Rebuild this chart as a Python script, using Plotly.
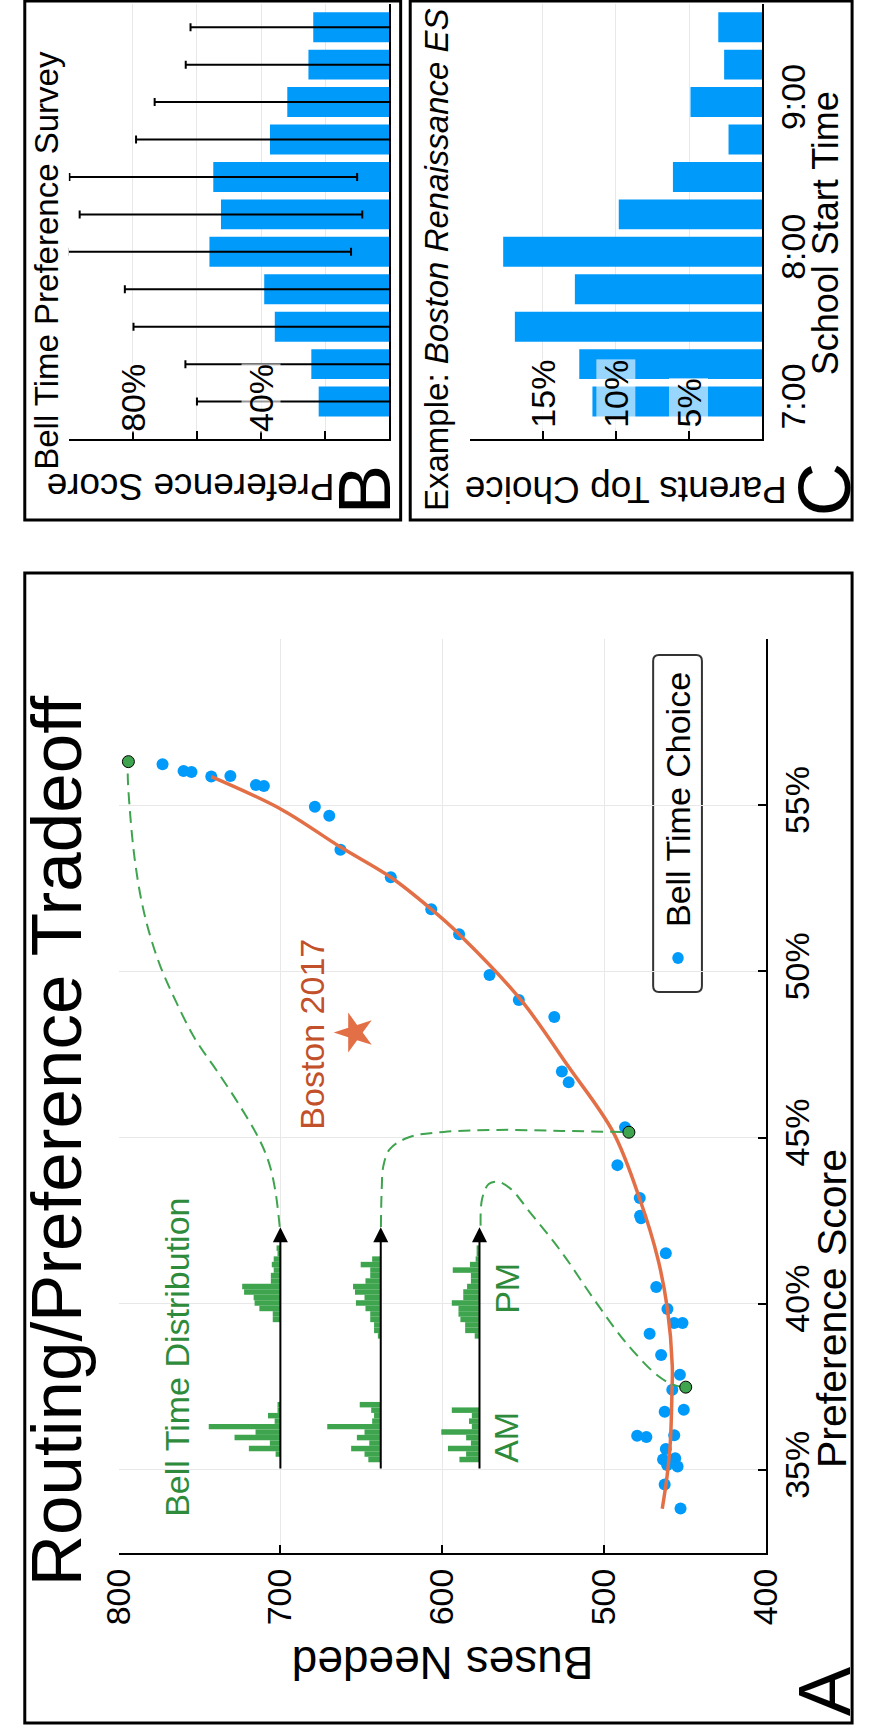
import plotly.graph_objects as go

W, H = 872, 1725
FONT = "Liberation Sans, Arial, Helvetica, sans-serif"
BLUE, ORANGE, GREEN = "#009AFA", "#E36F47", "#3EA44E"
GREEN_TXT, ORANGE_TXT = "#2e8b3c", "#c1502b"

# ---------------- Panel A data ----------------
bus_choice = [772.8, 759.8, 754.9, 742.7, 730.9, 715.1, 710.2, 678.7, 669.8, 662.9, 631.8,
              606.8, 589.6, 570.8, 552.7, 530.8, 526.1, 521.9, 487.1, 491.8, 478.0, 477.8,
              477.2, 461.9, 467.8, 460.9, 456.8, 451.6, 471.9, 464.8, 453.2, 457.9, 462.6,
              450.8, 479.6, 473.9, 456.7, 461.9, 463.6, 456.1, 461.1, 454.6, 462.6, 452.8]
pref_choice = [56.23, 56.03, 56.00, 55.86, 55.88, 55.61, 55.58, 54.95, 54.68, 53.66, 52.83,
               51.87, 51.12, 49.89, 49.14, 48.63, 46.99, 46.66, 45.31, 44.17, 43.18, 42.65,
               42.57, 41.52, 40.50, 39.84, 39.42, 39.42, 39.10, 38.46, 37.86, 37.41, 36.75,
               36.81, 36.03, 35.99, 36.04, 35.63, 35.31, 35.35, 35.15, 35.10, 34.56, 33.84]

fit_bus = [742.7, 699.6, 662.9, 631.8, 606.8, 589.6, 551.9, 522.3, 494.5, 478.0, 466.8,
           460.9, 457.9, 458.1, 459.1, 461.1, 464.1]
fit_pref = [55.86, 54.88, 53.74, 52.83, 51.87, 51.12, 49.17, 47.15, 45.17, 43.15, 41.35,
            39.84, 38.13, 37.35, 35.84, 34.82, 33.83]

path1_bus = [700.4, 703.3, 707.2, 713.1, 725.0, 738.7, 752.6, 764.4, 774.2, 781.1, 786.0, 790.0, 792.9, 794.3, 793.9]
path1_pref = [42.31, 43.45, 44.26, 44.95, 45.95, 46.97, 47.96, 49.08, 50.16, 51.18, 52.17, 53.38, 54.79, 55.93, 56.31]
path2_bus = [637.9, 637.4, 636.4, 632.4, 620.6, 599.0, 565.5, 526.1, 484.7]
path2_pref = [42.31, 43.45, 44.14, 44.65, 45.01, 45.17, 45.23, 45.20, 45.16]
path3_bus = [576.3, 575.4, 571.3, 565.5, 557.6, 545.8, 526.1, 506.4, 486.7, 467.0, 457.2, 449.6]
path3_pref = [42.35, 43.15, 43.60, 43.67, 43.45, 42.75, 41.54, 40.14, 38.84, 37.84, 37.56, 37.49]

sel_bus = [793.9, 484.7, 449.6]
sel_pref = [56.31, 45.16, 37.49]

boston_bus = [654.1]
boston_pref = [48.16]

# bell time distribution insets
hist_base_bus = [700, 638, 577]
arrow_from_pref, arrow_to_pref = 35.0, 42.3
am_start, pm_start, bin_w = 35.23, 38.95, 0.165
hist_am = [[0, 5, 33, 11, 48, 26, 75, 6, 13, 3, 3],
           [13, 17, 31, 12, 25, 17, 56, 9, 7, 10, 22],
           [21, 14, 33, 9, 14, 40, 8, 11, 8, 29, 0]]
hist_pm = [[0, 0, 0, 8, 8, 22, 27, 28, 38, 40, 10, 10, 7, 9, 7, 3, 4],
           [3, 7, 7, 11, 11, 16, 26, 17, 27, 29, 16, 11, 11, 21, 9, 0, 0],
           [5, 15, 15, 20, 22, 22, 29, 17, 17, 13, 9, 9, 28, 10, 4, 3, 3]]
HIST_UNIT = 0.59  # buses per count unit

bus_ticks = [400, 500, 600, 700, 800]
bus_ticktext = ["400", "500", "600", "700", "800"]
pref_ticks = [35, 40, 45, 50, 55]
pref_ticktext = ["35%", "40%", "45%", "50%", "55%"]

# ---------------- Panel B / C data ----------------
start_times = [7.0, 7.25, 7.5, 7.75, 8.0, 8.25, 8.5, 8.75, 9.0, 9.25, 9.5]
survey_mean = [22.0, 24.3, 35.7, 39.0, 56.1, 52.5, 54.9, 37.2, 31.8, 25.2, 23.7]
survey_err = [38.0, 39.3, 44.1, 43.5, 44.2, 44.1, 44.9, 41.8, 41.4, 38.3, 38.3]
survey_ticks = [0, 20, 40, 60, 80, 100]
survey_labels = {80: "80%", 40: "40%"}

top_choice = [11.6, 12.5, 16.9, 12.8, 17.7, 9.8, 6.1, 2.3, 4.9, 2.6, 3.0]
choice_ticks = [0, 5, 10, 15, 20]
choice_labels = {15: "15%", 10: "10%", 5: "5%"}
time_ticks = [7, 8, 9]
time_ticktext = ["7:00", "8:00", "9:00"]


def fx(p):
    return p / W


def fy(p):
    return 1 - p / H


fig = go.Figure()

# Panel A traces
fig.add_trace(go.Scatter(x=bus_choice, y=pref_choice, mode="markers", xaxis="x", yaxis="y",
                         marker=dict(color=BLUE, size=12, line=dict(width=0))))
fig.add_trace(go.Scatter(x=fit_bus, y=fit_pref, mode="lines", xaxis="x", yaxis="y",
                         line=dict(color=ORANGE, width=3.5, shape="spline")))
for pb, pp in [(path1_bus, path1_pref), (path2_bus, path2_pref), (path3_bus, path3_pref)]:
    fig.add_trace(go.Scatter(x=pb, y=pp, mode="lines", xaxis="x", yaxis="y",
                             line=dict(color=GREEN, width=2, dash="12px,7px", shape="spline", smoothing=1.0)))
fig.add_trace(go.Scatter(x=sel_bus, y=sel_pref, mode="markers", xaxis="x", yaxis="y",
                         marker=dict(color=GREEN, size=12, line=dict(color="black", width=1))))
fig.add_trace(go.Scatter(x=boston_bus, y=boston_pref, mode="markers", xaxis="x", yaxis="y",
                         marker=dict(color=ORANGE, size=30, symbol="star", angle=-90, line=dict(width=0))))

for base, am, pm in zip(hist_base_bus, hist_am, hist_pm):
    ys = [am_start + (i + 0.5) * bin_w for i in range(len(am))] + \
         [pm_start + (i + 0.5) * bin_w for i in range(len(pm))]
    xs = [c * HIST_UNIT for c in am + pm]
    fig.add_trace(go.Bar(x=xs, y=ys, base=base, orientation="h", width=bin_w,
                         xaxis="x", yaxis="y", marker=dict(color=GREEN, line=dict(width=0))))

# Panel B
fig.add_trace(go.Bar(x=survey_mean, y=start_times, orientation="h", width=0.2, xaxis="x2", yaxis="y2",
                     marker=dict(color=BLUE, line=dict(width=0)),
                     error_x=dict(type="data", array=survey_err, color="black", thickness=2, width=4)))
# Panel C
fig.add_trace(go.Bar(x=top_choice, y=start_times, orientation="h", width=0.2, xaxis="x3", yaxis="y3",
                     marker=dict(color=BLUE, line=dict(width=0))))

ann = []


def txt(s, cx, cy, size, angle=-90, color="black", **kw):
    d = dict(text=s, x=fx(cx), y=fy(cy), xref="paper", yref="paper", showarrow=False,
             textangle=angle, xanchor="center", yanchor="middle",
             font=dict(size=size, color=color, family=FONT))
    d.update(kw)
    ann.append(d)


# arrows for insets
for base in hist_base_bus:
    ann.append(dict(x=base, y=arrow_to_pref, ax=base, ay=arrow_from_pref, xref="x", yref="y",
                    axref="x", ayref="y", text="", showarrow=True, arrowhead=2, arrowsize=1.5,
                    arrowwidth=2, arrowcolor="black", standoff=0, startstandoff=0))

txt("Routing/Preference Tradeoff", 38, 1141, 71)
txt("Bell Time Distribution", 164, 1357, 34, color=GREEN_TXT)
txt("Boston 2017", 305, 1034, 34, color=ORANGE_TXT)
txt("AM", 508, 1437, 34, color=GREEN_TXT)
txt("PM", 509, 1288, 34, color=GREEN_TXT)
txt("Bell Time Choice", 688, 800, 34)
txt("Buses Needed", 442, 1663, 46, angle=180)
txt("Preference Score", 849, 1309, 41)
txt("A", 841, 1691, 74)
txt("B", 360, 490, 74)
txt("C", 841, 490, 74)
txt("Bell Time Preference Survey", 28, 260, 33)
txt("Example: <i>Boston Renaissance ES</i>", 436, 260, 33)
txt("Preference Score", 178, 487, 37, angle=180)
txt("Parents Top Choice", 633, 490, 37, angle=180)
txt("School Start Time", 842, 233, 36)

for v, lab in survey_labels.items():
    ann.append(dict(text=lab, x=v, y=fy(433), xref="x2", yref="paper", showarrow=False,
                    textangle=-90, xanchor="center", yanchor="bottom", bgcolor="rgba(255,255,255,0.6)",
                    borderpad=0, font=dict(size=34, color="black", family=FONT)))
for v, lab in choice_labels.items():
    ann.append(dict(text=lab, x=v, y=fy(429), xref="x3", yref="paper", showarrow=False,
                    textangle=-90, xanchor="center", yanchor="bottom", bgcolor="rgba(255,255,255,0.6)",
                    borderpad=0, font=dict(size=34, color="black", family=FONT)))

# shapes: panel frames, legend box and symbol
shapes = []
for x0, y0, x1, y1 in [(5, 1, 398, 520), (408, 1, 870, 520), (5, 573, 870, 1723)]:
    shapes.append(dict(type="rect", xref="paper", yref="paper", x0=fx(x0), x1=fx(x1),
                       y0=fy(y1), y1=fy(y0), line=dict(color="black", width=3)))
lx0, lx1, ly0, ly1 = fx(662), fx(713), fy(992), fy(655)
rx, ry = 6 / W, 6 / H
path = (f"M {lx0+rx},{ly0} L {lx1-rx},{ly0} Q {lx1},{ly0} {lx1},{ly0+ry} L {lx1},{ly1-ry} "
        f"Q {lx1},{ly1} {lx1-rx},{ly1} L {lx0+rx},{ly1} Q {lx0},{ly1} {lx0},{ly1-ry} "
        f"L {lx0},{ly0+ry} Q {lx0},{ly0} {lx0+rx},{ly0} Z")
shapes.append(dict(type="path", xref="paper", yref="paper", path=path,
                   line=dict(color="#333333", width=2), fillcolor="white", layer="below"))
shapes.append(dict(type="circle", xref="paper", yref="paper", x0=fx(682), x1=fx(694),
                   y0=fy(964), y1=fy(952), fillcolor=BLUE, line=dict(width=0)))

GRID = "#e8e8e8"
axis_common = dict(showline=True, linecolor="black", linewidth=2, zeroline=False,
                   ticks="inside", ticklen=8, tickwidth=1.5, tickcolor="black",
                   gridcolor=GRID, gridwidth=1, tickfont=dict(size=34, family=FONT, color="black"))

fig.update_layout(
    width=W, height=H, margin=dict(l=0, r=0, t=0, b=0),
    paper_bgcolor="white", plot_bgcolor="white", showlegend=False, barmode="overlay",
    font=dict(family=FONT, color="black"),
    xaxis=dict(domain=[fx(103), fx(780)], range=[800, 400], anchor="y",
               tickvals=bus_ticks, ticktext=bus_ticktext, tickangle=-90, showgrid=True,
               **axis_common),
    yaxis=dict(domain=[fy(1553), fy(639)], range=[32.5, 60.0], anchor="x", side="right",
               tickvals=pref_ticks, ticktext=pref_ticktext, tickangle=-90, showgrid=True,
               **axis_common),
    xaxis2=dict(domain=[fx(51), fx(386)], range=[100, 0], anchor="y2",
                tickvals=survey_ticks, showticklabels=False, showgrid=True, **axis_common),
    yaxis2=dict(domain=[fy(439), fy(4)], range=[6.75, 9.655], anchor="x2", side="right",
                showline=True, linecolor="black", linewidth=2, showgrid=False, zeroline=False,
                ticks="", showticklabels=False),
    xaxis3=dict(domain=[fx(470), fx(776)], range=[20, 0], anchor="y3",
                tickvals=choice_ticks, showticklabels=False, showgrid=True, **axis_common),
    yaxis3=dict(domain=[fy(439), fy(4)], range=[6.75, 9.655], anchor="x3", side="right",
                showline=True, linecolor="black", linewidth=2, showgrid=False, zeroline=False,
                ticks="", tickvals=time_ticks, ticktext=time_ticktext, tickangle=-90,
                tickfont=dict(size=34, family=FONT, color="black")),
    annotations=ann, shapes=shapes,
)

fig.write_html("out.html")
